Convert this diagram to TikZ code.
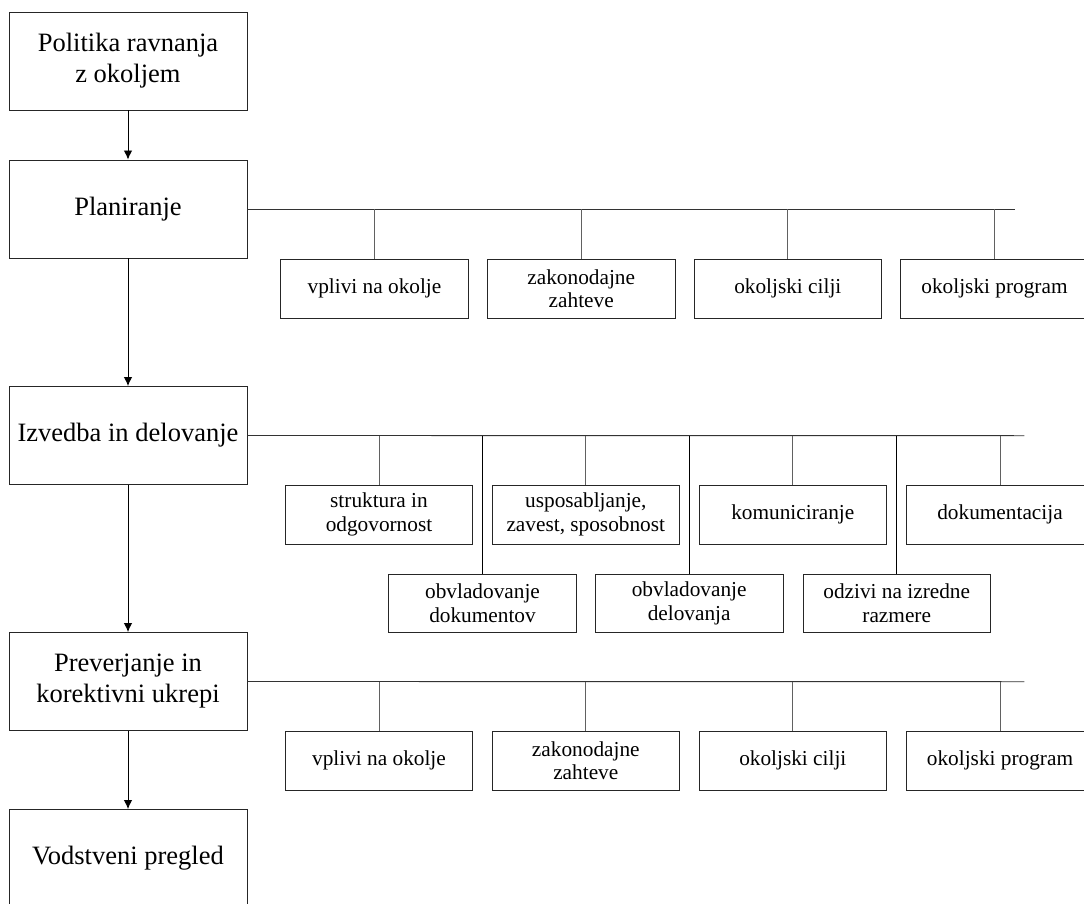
\documentclass[tikz,border=0pt]{standalone}
\usepackage{fontspec}
\setmainfont{Liberation Serif}
\usetikzlibrary{arrows.meta}
\begin{document}
\begin{tikzpicture}[x=1pt,y=-1pt,
  mainbox/.style={draw=black!85, line width=0.9pt, minimum width=238pt, minimum height=98pt,
    inner sep=0pt, align=center, font=\fontsize{26.5}{31}\selectfont},
  subbox/.style={draw=black!85, line width=0.9pt, minimum width=187.5pt, minimum height=59pt,
    inner sep=0pt, align=center, font=\fontsize{21.3}{23.5}\selectfont},
  flow/.style={draw=black, line width=0.9pt, -{Latex[length=9pt,width=8.5pt]}},
  bus/.style={draw=black!80, line width=0.9pt},
  drop/.style={draw=black!62, line width=0.9pt},
  longdrop/.style={draw=black, line width=0.9pt}]
\clip (0,0) rectangle (1084,904);
\fill[white] (0,0) rectangle (1084,904);

% main sequence
\node[mainbox] (pol) at (128,61) {Politika ravnanja\\z okoljem};
\node[mainbox] (plan) at (128,209) {Planiranje};
\node[mainbox] (izv) at (128,435.5) {Izvedba in delovanje};
\node[mainbox] (prev) at (128,681.5) {Preverjanje in\\korektivni ukrepi};
\node[mainbox] (vod) at (128,858.5) {Vodstveni pregled};

\draw[flow] (pol) -- (plan);
\draw[flow] (plan) -- (izv);
\draw[flow] (izv) -- (prev);
\draw[flow] (prev) -- (vod);

% planning branch
\node[subbox] (p1) at (374.5,288.5) {vplivi na okolje};
\node[subbox] (p2) at (581.2,288.5) {zakonodajne\\zahteve};
\node[subbox] (p3) at (787.8,288.5) {okoljski cilji};
\node[subbox] (p4) at (994.5,288.5) {okoljski program};
\coordinate (pend) at (1015,209);
\draw[bus] (plan.east) -- (pend);
\foreach \b in {p1,p2,p3,p4}
  \draw[drop] (\b.north) -- (\b.north |- pend);

% implementation branch
\node[subbox] (i1) at (379,514.5) {struktura in\\odgovornost};
\node[subbox] (i2) at (585.8,514.5) {usposabljanje,\\zavest, sposobnost};
\node[subbox] (i3) at (792.8,514.5) {komuniciranje};
\node[subbox] (i4) at (1000,514.5) {dokumentacija};
\node[subbox, minimum height=58pt] (j1) at (482.5,603.3) {obvladovanje\\dokumentov};
\node[subbox, minimum height=58pt] (j2) at (689.2,603.3) {obvladovanje\\delovanja};
\node[subbox, minimum height=58pt] (j3) at (896.7,603.3) {odzivi na izredne\\razmere};
\coordinate (iend) at (1024.3,435.7);
\draw[bus] (izv.east) -- (iend);
\foreach \b in {i1,i2,i3,i4}
  \draw[drop] (\b.north) -- (\b.north |- iend);
\foreach \b in {j1,j2,j3}
  \draw[longdrop] (\b.north) -- (\b.north |- iend);

% checking branch
\node[subbox] (k1) at (379,760.5) {vplivi na okolje};
\node[subbox] (k2) at (585.8,760.5) {zakonodajne\\zahteve};
\node[subbox] (k3) at (792.8,760.5) {okoljski cilji};
\node[subbox] (k4) at (1000,760.5) {okoljski program};
\coordinate (kend) at (1024.3,681.7);
\draw[bus] (prev.east) -- (kend);
\foreach \b in {k1,k2,k3,k4}
  \draw[drop] (\b.north) -- (\b.north |- kend);
\end{tikzpicture}
\end{document}
